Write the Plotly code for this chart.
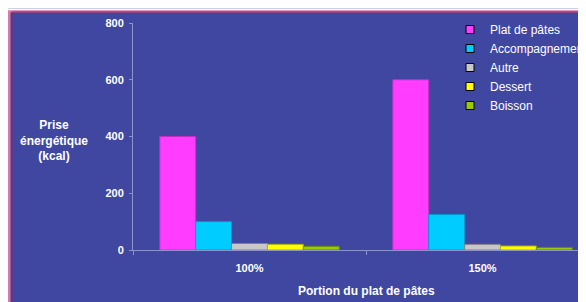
import plotly.graph_objects as go

categories = ["100%", "150%"]
series_names = ["Plat de pâtes", "Accompagnement", "Autre", "Dessert", "Boisson"]
plat_de_pates = [400, 600]
accompagnement = [100, 125]
autre = [23, 20]
dessert = [20, 14]
boisson = [13, 9]
series_values = [plat_de_pates, accompagnement, autre, dessert, boisson]
colors = ["#FF3CFF", "#00CCFF", "#C8C8C8", "#FFFF00", "#99CC00"]
outline = ["#C030C0", "#0099CC", "#808080", "#B0B000", "#6A8A00"]
y_ticks = [0, 200, 400, 600, 800]

BG = "#4047A1"
AX = "#8C93CF"
FONT = "Liberation Sans, Arial, sans-serif"

# page body margin offset (figure starts 8px in from the page corner)
OFF = 8
W, H = 586 - OFF, 302 - OFF
L, T, B = 133 - OFF, 23 - OFF, 250 - OFF
PW, PH = W - L, B - T

def px(x):  # page pixel -> paper x
    return (x - OFF - L) / PW

def py(y):  # page pixel -> paper y
    return (B - (y - OFF)) / PH

fig = go.Figure()
for name, vals, c, oc in zip(series_names, series_values, colors, outline):
    fig.add_trace(go.Bar(x=categories, y=vals, name=name, marker=dict(color=c, line=dict(color=oc, width=1)),
                         showlegend=False))
for name, c in zip(series_names, colors):
    fig.add_trace(go.Scatter(x=[None], y=[None], mode="markers", name=name,
                             marker=dict(symbol="square", size=8, color=c, line=dict(color="black", width=1))))

bold = dict(size=12, weight="bold", color="white", family=FONT)

fig.update_layout(
    width=W, height=H,
    margin=dict(l=L, r=0, t=T, b=H - B, autoexpand=False),
    paper_bgcolor=BG, plot_bgcolor=BG,
    barmode="group", bargap=0.23, bargroupgap=0,
    font=dict(family=FONT, color="white", size=12),
    legend=dict(x=px(450), y=py(15), xanchor="left", yanchor="top", bgcolor="rgba(0,0,0,0)",
                font=dict(size=12, color="white", family=FONT), tracegroupgap=0, itemwidth=30),
    xaxis=dict(type="category", range=[-0.5, 1.444], showline=True, linecolor=AX, linewidth=1,
               ticks="outside", tickson="boundaries", ticklen=4, tickcolor=AX, ticklabelstandoff=8,
               tickfont=dict(size=11, weight="bold", color="white", family=FONT),
               showgrid=False, zeroline=False, automargin=False),
    yaxis=dict(range=[0, 800], tickvals=y_ticks, showline=True, linecolor=AX, linewidth=1,
               ticks="outside", ticklen=3, tickcolor=AX, showgrid=False, zeroline=False, automargin=False,
               ticklabelstandoff=3,
               tickfont=dict(size=11, weight="bold", color="white", family=FONT)),
    annotations=[
        dict(text="Prise<br>énergétique<br>(kcal)", x=px(54), y=py(140), xref="paper", yref="paper",
             showarrow=False, align="center", xanchor="center", yanchor="middle", font=bold),
        dict(text="Portion du plat de pâtes", x=px(366), y=py(291), xref="paper", yref="paper",
             showarrow=False, xanchor="center", yanchor="middle", font=bold),
    ],
    shapes=[
        dict(type="rect", xref="paper", yref="paper", x0=px(9), x1=px(620), y0=py(330), y1=py(11),
             fillcolor="rgba(0,0,0,0)", line=dict(color="#D879A8", width=3), layer="below"),
        dict(type="rect", xref="paper", yref="paper", x0=px(12), x1=px(620), y0=py(330), y1=py(12),
             fillcolor="rgba(0,0,0,0)", line=dict(color="#8A2A5A", width=1), layer="below"),
        dict(type="rect", xref="paper", yref="paper", x0=px(0), x1=px(620), y0=py(330), y1=py(9.3),
             fillcolor="rgba(0,0,0,0)", line=dict(color="white", width=2), layer="below"),
    ],
)

fig.write_html("out.html")
